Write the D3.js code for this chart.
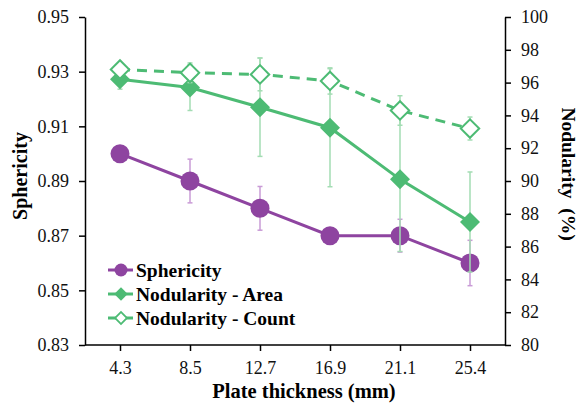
<!DOCTYPE html>
<html><head><meta charset="utf-8">
<script src="https://cdn.jsdelivr.net/npm/d3@7"></script>
<style>body{margin:0;background:#fff}svg{display:block}
svg text{font-family:"Liberation Serif","Times New Roman","DejaVu Serif",serif}</style>
</head><body>
<script>
const categories = ["4.3","8.5","12.7","16.9","21.1","25.4"];
const sphericity = [0.90, 0.89, 0.88, 0.87, 0.87, 0.86];
const sphericityErr = [0, 0.008, 0.008, 0, 0.006, 0.0083];
const nodArea = [96.2, 95.7, 94.5, 93.25, 90.1, 87.5];
const nodAreaErr = [0.6, 1.4, 3.0, 3.6, 4.4, 3.05];
const nodCount = [96.8, 96.6, 96.5, 96.1, 94.3, 93.2];
const nodCountErr = [0.2, 0.6, 1.0, 0.8, 0.9, 0.7];
const leftTicks = [0.83,0.85,0.87,0.89,0.91,0.93,0.95];
const rightTicks = [80,82,84,86,88,90,92,94,96,98,100];

const W=578,H=405, L=85, R=505, T=17, B=345;
const purple="#8E44A0", green="#4DBB74", lpurple="#C99BD6", lgreen="#A3DCB3";

const svg=d3.select("body").append("svg").attr("width",W).attr("height",H);
const x=d3.scalePoint().domain(categories).range([L,R]).padding(0.5);
const yL=d3.scaleLinear().domain([0.83,0.95]).range([B,T]);
const yR=d3.scaleLinear().domain([80,100]).range([B,T]);

function styleAxis(g){
  g.attr("font-family",null).attr("font-size",null);
  g.selectAll("path,line").attr("stroke","#000").attr("stroke-width",1.5);
  g.selectAll("text").attr("font-size",18).attr("fill","#111");
}
svg.append("g").attr("transform",`translate(${L},0)`)
  .call(d3.axisLeft(yL).tickValues(leftTicks).tickFormat(d3.format(".2f")).tickSize(6).tickSizeOuter(0).tickPadding(10))
  .call(styleAxis);
svg.append("g").attr("transform",`translate(${R},0)`)
  .call(d3.axisRight(yR).tickValues(rightTicks).tickFormat(d3.format("d")).tickSize(6).tickSizeOuter(0).tickPadding(10))
  .call(styleAxis);
svg.append("g").attr("transform",`translate(0,${B})`)
  .call(d3.axisBottom(x).tickSize(6).tickSizeOuter(0).tickPadding(10))
  .call(styleAxis)
  .call(g=>g.select(".domain").attr("d",`M${L},0H${R}`));

function series(vals, errs, y, color, ecolor, kind, dashed){
  const g=svg.append("g");
  const eb=g.append("g");
  categories.forEach((c,i)=>{
    if(!errs[i]) return;
    const cx=x(c), y1=y(vals[i]+errs[i]), y2=y(vals[i]-errs[i]);
    eb.append("line").attr("x1",cx).attr("x2",cx).attr("y1",y1).attr("y2",y2).attr("stroke",ecolor).attr("stroke-width",1.5);
    [y1,y2].forEach(yy=>eb.append("line").attr("x1",cx-2.5).attr("x2",cx+2.5).attr("y1",yy).attr("y2",yy).attr("stroke",ecolor).attr("stroke-width",1.5));
  });
  const line=d3.line().x((d,i)=>x(categories[i])).y(d=>y(d));
  const p=g.append("path").datum(vals).attr("d",line).attr("fill","none").attr("stroke",color).attr("stroke-width",3);
  if(dashed) p.attr("stroke-dasharray","10,7");
  vals.forEach((v,i)=>{
    const cx=x(categories[i]), cy=y(v);
    if(kind==="circle") g.append("circle").attr("cx",cx).attr("cy",cy).attr("r",9.5).attr("fill",color);
    else if(kind==="diamond") g.append("path").attr("d",d3.symbol(d3.symbolSquare,200)()).attr("transform",`translate(${cx},${cy}) rotate(45)`).attr("fill",color);
    else g.append("path").attr("d",d3.symbol(d3.symbolSquare,170)()).attr("transform",`translate(${cx},${cy}) rotate(45)`).attr("fill","#fff").attr("stroke",color).attr("stroke-width",2);
  });
}
series(sphericity, sphericityErr, yL, purple, lpurple, "circle", false);
series(nodArea, nodAreaErr, yR, green, lgreen, "diamond", false);
series(nodCount, nodCountErr, yR, green, lgreen, "open", true);

// axis titles
svg.append("text").attr("transform","translate(27,176) rotate(-90)").attr("text-anchor","middle")
  .attr("font-weight","bold").attr("font-size",20).text("Sphericity");
svg.append("text").attr("transform","translate(562,174) rotate(90)").attr("text-anchor","middle")
  .attr("font-weight","bold").attr("font-size",19.5).text("Nodularity\u00a0\u00a0(%)");
svg.append("text").attr("x",304).attr("y",398).attr("text-anchor","middle")
  .attr("font-weight","bold").attr("font-size",20.5).text("Plate thickness (mm)");

// legend
const legend=[["Sphericity",purple,"circle"],["Nodularity - Area",green,"diamond"],["Nodularity - Count",green,"open"]];
legend.forEach((d,i)=>{
  const ly=270+i*24;
  const g=svg.append("g");
  g.append("line").attr("x1",108).attr("x2",133).attr("y1",ly).attr("y2",ly).attr("stroke",d[1]).attr("stroke-width",3);
  if(d[2]==="circle") g.append("circle").attr("cx",121).attr("cy",ly).attr("r",6.5).attr("fill",d[1]);
  else if(d[2]==="diamond") g.append("path").attr("d",d3.symbol(d3.symbolSquare,90)()).attr("transform",`translate(121,${ly}) rotate(45)`).attr("fill",d[1]);
  else g.append("path").attr("d",d3.symbol(d3.symbolSquare,70)()).attr("transform",`translate(121,${ly}) rotate(45)`).attr("fill","#fff").attr("stroke",d[1]).attr("stroke-width",1.8);
  g.append("text").attr("x",136).attr("y",ly+6.5).attr("font-weight","bold").attr("font-size",19.5).text(d[0]);
});
</script>
</body></html>
